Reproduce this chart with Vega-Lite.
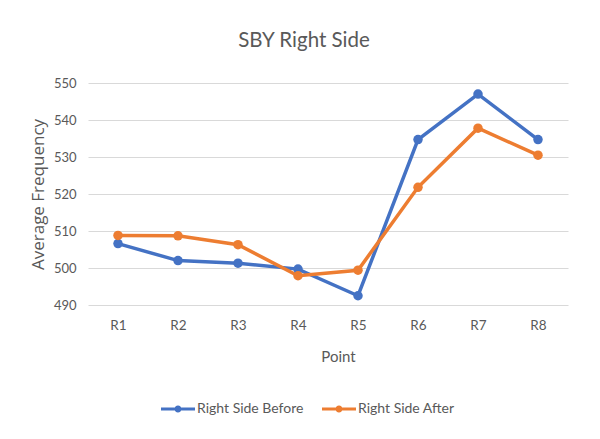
{
  "$schema": "https://vega.github.io/schema/vega-lite/v6.json",
  "autosize": {"type": "none"},
  "width": 480,
  "height": 222,
  "padding": {"left": 88, "top": 83, "right": 32, "bottom": 134},
  "background": "white",
  "title": {
    "text": "SBY Right Side",
    "anchor": "middle",
    "dx": -24,
    "offset": 26,
    "font": "Lato",
    "fontSize": 20.5,
    "fontWeight": "normal",
    "color": "#595959"
  },
  "data": {
    "values": [
      {"point": "R1", "series": "Right Side Before", "value": 506.6},
      {"point": "R2", "series": "Right Side Before", "value": 502.0},
      {"point": "R3", "series": "Right Side Before", "value": 501.3},
      {"point": "R4", "series": "Right Side Before", "value": 499.7},
      {"point": "R5", "series": "Right Side Before", "value": 492.5},
      {"point": "R6", "series": "Right Side Before", "value": 534.7},
      {"point": "R7", "series": "Right Side Before", "value": 547.0},
      {"point": "R8", "series": "Right Side Before", "value": 534.7},
      {"point": "R1", "series": "Right Side After", "value": 508.8},
      {"point": "R2", "series": "Right Side After", "value": 508.7},
      {"point": "R3", "series": "Right Side After", "value": 506.3},
      {"point": "R4", "series": "Right Side After", "value": 497.9},
      {"point": "R5", "series": "Right Side After", "value": 499.4},
      {"point": "R6", "series": "Right Side After", "value": 521.8},
      {"point": "R7", "series": "Right Side After", "value": 537.8},
      {"point": "R8", "series": "Right Side After", "value": 530.5}
    ]
  },
  "encoding": {
    "x": {
      "field": "point",
      "type": "nominal",
      "sort": null,
      "scale": {"type": "point", "padding": 0.5},
      "axis": {
        "title": "Point",
        "titleFont": "Lato",
        "titleFontSize": 15,
        "titleFontWeight": "normal",
        "titleColor": "#595959",
        "titlePadding": 18,
        "titleX": 250,
        "labelFont": "Lato",
        "labelFontSize": 13.5,
        "labelColor": "#595959",
        "labelAngle": 0,
        "labelPadding": 13,
        "ticks": false,
        "domain": false,
        "grid": false
      }
    },
    "y": {
      "field": "value",
      "type": "quantitative",
      "scale": {"domain": [490, 550], "nice": false, "zero": false},
      "axis": {
        "values": [490, 500, 510, 520, 530, 540, 550],
        "title": "Average Frequency",
        "titleFont": "Open Sans",
        "titleFontSize": 17,
        "titleFontWeight": "normal",
        "titleColor": "#595959",
        "titlePadding": 6,
        "labelFont": "Lato",
        "labelFontSize": 13,
        "labelColor": "#595959",
        "labelPadding": 12,
        "ticks": false,
        "domain": false,
        "grid": true,
        "gridColor": "#d9d9d9",
        "gridWidth": 1
      }
    },
    "color": {
      "field": "series",
      "type": "nominal",
      "scale": {
        "domain": ["Right Side Before", "Right Side After"],
        "range": ["#4472C4", "#ED7D31"]
      },
      "legend": {
        "orient": "none",
        "legendX": 73,
        "legendY": 309,
        "direction": "horizontal",
        "title": null,
        "symbolType": "M-1,-0.088H1V0.088H-1Z M0.206,0A0.206,0.206 0 1,1 -0.206,0A0.206,0.206 0 1,1 0.206,0Z",
        "symbolSize": 1156,
        "symbolStrokeWidth": 0,
        "symbolOpacity": 1,
        "labelFont": "Lato",
        "labelFontSize": 14,
        "labelColor": "#595959",
        "labelOffset": 2,
        "columnPadding": 18
      }
    }
  },
  "layer": [
    {"mark": {"type": "line", "strokeWidth": 3.5}},
    {"mark": {"type": "point", "filled": true, "size": 90, "opacity": 1}}
  ],
  "config": {"view": {"stroke": null}}
}
